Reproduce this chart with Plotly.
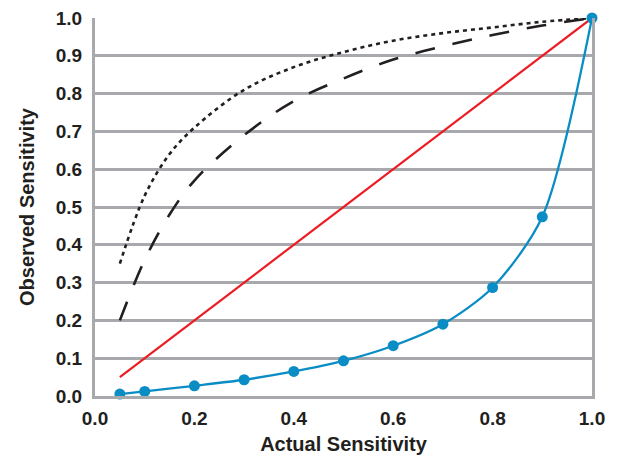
import plotly.graph_objects as go

# Data
sens_points = [0.05, 0.1, 0.2, 0.3, 0.4, 0.5, 0.6, 0.7, 0.8, 0.9, 1.0]
observed_blue = [0.005, 0.012, 0.027, 0.043, 0.065, 0.093, 0.133, 0.19, 0.287, 0.474, 1.0]

red_x = [0.05, 1.0]
red_y = [0.05, 1.0]

curve_x = [0.05, 0.1, 0.15, 0.2, 0.3, 0.4, 0.5, 0.6, 0.7, 0.8, 0.9, 1.0]
dotted_y = [0.35, 0.53, 0.64, 0.71, 0.81, 0.87, 0.91, 0.94, 0.96, 0.975, 0.99, 1.0]
dashed_y = [0.20, 0.36, 0.48, 0.57, 0.69, 0.78, 0.84, 0.89, 0.925, 0.955, 0.98, 1.0]

x_ticks = [0.0, 0.2, 0.4, 0.6, 0.8, 1.0]
x_ticklabels = ["0.0", "0.2", "0.4", "0.6", "0.8", "1.0"]
y_ticks = [0.0, 0.1, 0.2, 0.3, 0.4, 0.5, 0.6, 0.7, 0.8, 0.9, 1.0]
y_ticklabels = ["0.0", "0.1", "0.2", "0.3", "0.4", "0.5", "0.6", "0.7", "0.8", "0.9", "1.0"]

DARK = "#231f20"
GRID = "#a7a9ac"
BLUE = "#0a8cc4"
RED = "#ec1c24"

fig = go.Figure()
fig.add_trace(go.Scatter(x=curve_x, y=dotted_y, mode="lines", line=dict(color=DARK, width=2.6, dash="4px,4px", shape="spline"), cliponaxis=False))
fig.add_trace(go.Scatter(x=curve_x, y=dashed_y, mode="lines", line=dict(color=DARK, width=2.6, dash="20px,18px", shape="spline"), cliponaxis=False))
fig.add_trace(go.Scatter(x=red_x, y=red_y, mode="lines", line=dict(color=RED, width=2.2), cliponaxis=False))
fig.add_trace(go.Scatter(x=sens_points, y=observed_blue, mode="lines+markers",
                         line=dict(color=BLUE, width=2.3, shape="spline", smoothing=0.8),
                         marker=dict(color=BLUE, size=11), cliponaxis=False))

font_tick = dict(family="Liberation Sans, Arial, sans-serif", size=19, color=DARK, weight="bold")
font_title = dict(family="Liberation Sans, Arial, sans-serif", size=20, color=DARK, weight="bold")

fig.update_layout(
    width=617, height=458,
    margin=dict(l=95, r=25, t=18, b=62),
    paper_bgcolor="white", plot_bgcolor="white",
    showlegend=False,
    xaxis=dict(range=[0, 1], tickvals=x_ticks, ticktext=x_ticklabels, tickfont=font_tick,
               showgrid=False, zeroline=False, showline=True, linecolor=GRID, linewidth=3,
               ticks="", ticklabelstandoff=3, automargin=False,
               title=dict(text="Actual Sensitivity", font=font_title, standoff=10)),
    yaxis=dict(range=[0, 1], tickvals=y_ticks, ticktext=y_ticklabels, tickfont=font_tick,
               showgrid=True, gridcolor=GRID, gridwidth=2.5, zeroline=False,
               showline=True, linecolor=GRID, linewidth=3, mirror=True,
               ticks="", ticklabelstandoff=6, automargin=False,
               title=dict(text="Observed Sensitivity", font=font_title, standoff=16)),
)

fig.write_html("out.html")
